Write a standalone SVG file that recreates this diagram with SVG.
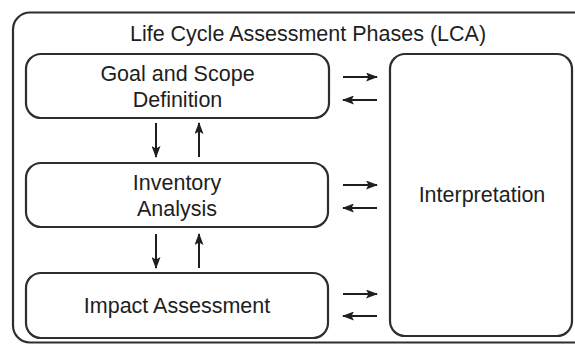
<svg xmlns="http://www.w3.org/2000/svg" width="575" height="344" viewBox="0 0 575 344">
<style>
.box{fill:#fff;stroke:#2e2e2e;stroke-width:2.2}
.t{font-family:"Liberation Sans",Arial,sans-serif;font-size:21.5px;fill:#1e1e1e;text-anchor:middle}
.c{stroke:#1e1e1e;stroke-width:2;fill:none}
</style>
<defs>
<marker id="ah" viewBox="0 0 12 9" refX="11" refY="4.5" markerWidth="12" markerHeight="9" markerUnits="userSpaceOnUse" orient="auto">
<path d="M0,0 L12,4.5 L0,9 L2.5,4.5 Z" fill="#1e1e1e"/>
</marker>
</defs>
<rect width="575" height="344" fill="#fff"/>
<g id="frame">
<rect class="box" x="13" y="12.5" width="580" height="330" rx="17"/>
<text class="t" x="308" y="41">Life Cycle Assessment Phases (LCA)</text>
</g>
<g id="goal">
<rect class="box" x="26" y="54" width="303" height="64" rx="15"/>
<text class="t" x="177.5" y="81">Goal and Scope</text>
<text class="t" x="177.5" y="107">Definition</text>
</g>
<g id="inventory">
<rect class="box" x="26" y="163" width="302" height="64" rx="15"/>
<text class="t" x="177" y="190">Inventory</text>
<text class="t" x="177" y="216">Analysis</text>
</g>
<g id="impact">
<rect class="box" x="26" y="273" width="302" height="65" rx="15"/>
<text class="t" x="177" y="313">Impact Assessment</text>
</g>
<g id="interpretation">
<rect class="box" x="390" y="54" width="182" height="282" rx="15"/>
<text class="t" x="482" y="202">Interpretation</text>
</g>
<g id="connectors">
<line class="c" x1="156" y1="123" x2="156" y2="157" marker-end="url(#ah)"/>
<line class="c" x1="199" y1="157" x2="199" y2="123" marker-end="url(#ah)"/>
<line class="c" x1="156" y1="234" x2="156" y2="268" marker-end="url(#ah)"/>
<line class="c" x1="199" y1="268" x2="199" y2="234" marker-end="url(#ah)"/>
<line class="c" x1="343" y1="77" x2="377" y2="77" marker-end="url(#ah)"/>
<line class="c" x1="377" y1="100" x2="343" y2="100" marker-end="url(#ah)"/>
<line class="c" x1="343" y1="185" x2="377" y2="185" marker-end="url(#ah)"/>
<line class="c" x1="377" y1="208" x2="343" y2="208" marker-end="url(#ah)"/>
<line class="c" x1="343" y1="294" x2="377" y2="294" marker-end="url(#ah)"/>
<line class="c" x1="377" y1="316" x2="343" y2="316" marker-end="url(#ah)"/>
</g>
</svg>
